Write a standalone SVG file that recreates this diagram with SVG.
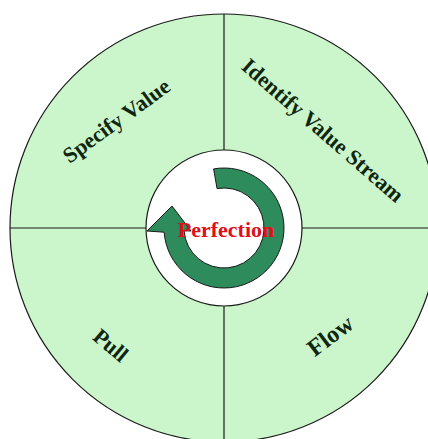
<svg xmlns="http://www.w3.org/2000/svg" width="428" height="439" viewBox="0 0 428 439">
  <style>
    .lbl { font-family: "Liberation Serif", "Times New Roman", serif; font-weight: bold; font-size: 22px; fill: #0f260f; text-anchor: middle; }
    .ctr { font-family: "Liberation Serif", "Times New Roman", serif; font-weight: bold; font-size: 22px; fill: #e0101a; text-anchor: middle; }
    .edge { stroke: #1a1a1a; stroke-width: 1.2; fill: none; }
  </style>
  <rect width="428" height="439" fill="#ffffff"/>
  <g id="wheel">
    <circle cx="224" cy="228" r="214" fill="#cbf5cb" stroke="#1a1a1a" stroke-width="1.2"/>
  </g>
  <g id="connectors">
    <line class="edge" x1="224" y1="14" x2="224" y2="150"/>
    <line class="edge" x1="224" y1="306" x2="224" y2="439"/>
    <line class="edge" x1="10" y1="228" x2="148" y2="228"/>
    <line class="edge" x1="302" y1="228" x2="428" y2="228"/>
  </g>
  <g id="perfection">
    <circle cx="224" cy="228" r="78" fill="#ffffff" stroke="#1a1a1a" stroke-width="1.2"/>
    <path d="M213.58,168.91 A60,60 0 1 1 164.15,232.19 L147,231 L172,206 L191,231 L184.1,230.8 A40,40 0 1 0 217.05,188.6 Z" fill="#2e8b5c" stroke="#1a1a1a" stroke-width="1"/>
    <text class="ctr" x="226" y="237">Perfection</text>
  </g>
  <g id="specify-value">
    <text class="lbl" transform="translate(120.7,126.8) rotate(-36)">Specify Value</text>
  </g>
  <g id="identify-value-stream">
    <text class="lbl" transform="translate(318,136) rotate(41)">Identify Value Stream</text>
  </g>
  <g id="pull">
    <text class="lbl" transform="translate(106,351) rotate(40)">Pull</text>
  </g>
  <g id="flow">
    <text class="lbl" style="font-size:24px" transform="translate(335,342) rotate(-37)">Flow</text>
  </g>
</svg>
